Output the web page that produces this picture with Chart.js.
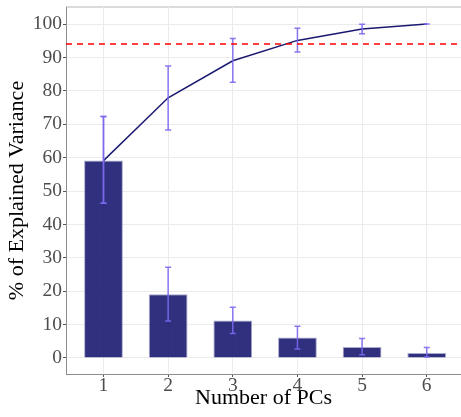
<!DOCTYPE html>
<html>
<head>
<meta charset="utf-8">
<script src="https://cdn.jsdelivr.net/npm/chart.js@4"></script>
<style>
  html, body { margin: 0; padding: 0; background: #fff; }
  #wrap { width: 461px; height: 417px; }
</style>
</head>
<body>
<div id="wrap"><canvas id="pca"></canvas></div>
<script>
// PCA scree data
const pcs = [1, 2, 3, 4, 5, 6];
const explained = [59.1, 19.1, 11.2, 6.1, 3.3, 1.5];
const explainedLow = [46.3, 11.1, 7.3, 2.7, 1.0, 0.3];
const explainedHigh = [72.3, 27.2, 15.2, 9.5, 5.8, 3.1];
const cumulative = [59.1, 77.9, 89.0, 95.1, 98.5, 100];
const cumulativeLow = [46.3, 68.3, 82.6, 91.6, 97.1, 100];
const cumulativeHigh = [72.3, 87.4, 95.7, 98.7, 99.9, 100];
const yTicks = [0, 10, 20, 30, 40, 50, 60, 70, 80, 90, 100];
const threshold = 94;

const serif = "'Liberation Serif', 'Times New Roman', serif";
const errColor = "rgba(123, 104, 238, 0.9)";

const panelBorder = {
  id: "panelBorder",
  beforeDraw(chart) {
    const { ctx, chartArea: a } = chart;
    ctx.save();
    ctx.strokeStyle = "#cfcfcf";
    ctx.lineWidth = 1.5;
    ctx.beginPath();
    ctx.moveTo(a.left, a.top);
    ctx.lineTo(a.right, a.top);
    ctx.stroke();
    ctx.restore();
  },
};

const errorBars = {
  id: "errorBars",
  afterDatasetsDraw(chart) {
    const { ctx, scales: { x, y } } = chart;
    ctx.save();
    ctx.strokeStyle = errColor;
    ctx.lineWidth = 1.5;
    const drawSet = (lo, hi) => pcs.forEach((pc, i) => {
      const px = x.getPixelForValue(pc);
      const top = y.getPixelForValue(hi[i]);
      const bot = y.getPixelForValue(lo[i]);
      ctx.beginPath();
      ctx.moveTo(px, top); ctx.lineTo(px, bot);
      ctx.moveTo(px - 3, top); ctx.lineTo(px + 3, top);
      ctx.moveTo(px - 3, bot); ctx.lineTo(px + 3, bot);
      ctx.stroke();
    });
    drawSet(explainedLow, explainedHigh);
    drawSet(cumulativeLow, cumulativeHigh);

    // cutoff line
    const ty = y.getPixelForValue(threshold);
    ctx.strokeStyle = "rgba(255, 0, 0, 0.75)";
    ctx.lineWidth = 2;
    ctx.setLineDash([6, 5]);
    ctx.beginPath();
    ctx.moveTo(chart.chartArea.left, ty);
    ctx.lineTo(chart.chartArea.right, ty);
    ctx.stroke();
    ctx.restore();
  },
};

new Chart(document.getElementById("pca"), {
  type: "bar",
  data: {
    datasets: [
      {
        type: "line",
        label: "Cumulative",
        data: pcs.map((pc, i) => ({ x: pc, y: cumulative[i] })),
        borderColor: "#191970",
        borderWidth: 1.5,
        pointRadius: 0,
        tension: 0,
        order: 1,
      },
      {
        type: "bar",
        label: "Explained",
        data: pcs.map((pc, i) => ({ x: pc, y: explained[i] })),
        backgroundColor: "rgba(25, 25, 112, 0.9)",
        borderColor: "rgba(160, 160, 200, 0.9)",
        borderWidth: 1,
        barPercentage: 1,
        categoryPercentage: 0.6,
        order: 2,
      },
    ],
  },
  options: {
    responsive: true,
    maintainAspectRatio: false,
    animation: false,
    devicePixelRatio: 1,
    layout: { padding: { top: 7, right: 0, bottom: 0, left: 0 } },
    plugins: {
      legend: { display: false },
      tooltip: { enabled: false },
    },
    scales: {
      x: {
        type: "linear",
        offset: false,
        min: 0.42,
        max: 6.53,
        afterBuildTicks: (s) => { s.ticks = pcs.map((v) => ({ value: v })); },
        afterFit: (s) => { s.height = 43; s.paddingLeft = 0; s.paddingRight = 0; },
        ticks: { color: "#4d4d4d", font: { family: serif, size: 19.5 }, padding: -3, maxRotation: 0 },
        grid: { offset: false, color: "#ebebeb", tickColor: "#555", tickLength: 3 },
        border: { color: "#8c8c8c" },
        title: {
          display: true,
          text: "Number of PCs",
          color: "#000",
          font: { family: serif, size: 22 },
          padding: { top: 0, bottom: 6 },
        },
      },
      y: {
        type: "linear",
        min: -4.8,
        max: 105.1,
        afterBuildTicks: (s) => { s.ticks = yTicks.map((v) => ({ value: v })); },
        afterFit: (s) => { s.width = 66; s.paddingTop = 0; s.paddingBottom = 0; },
        ticks: { color: "#4d4d4d", font: { family: serif, size: 19.5 }, padding: 1 },
        grid: { color: "#ebebeb", tickColor: "#555", tickLength: 3 },
        border: { color: "#8c8c8c" },
        title: {
          display: true,
          text: "% of Explained Variance",
          color: "#000",
          font: { family: serif, size: 22 },
          padding: { top: 4, bottom: 0 },
        },
      },
    },
  },
  plugins: [panelBorder, errorBars],
});
</script>
</body>
</html>
